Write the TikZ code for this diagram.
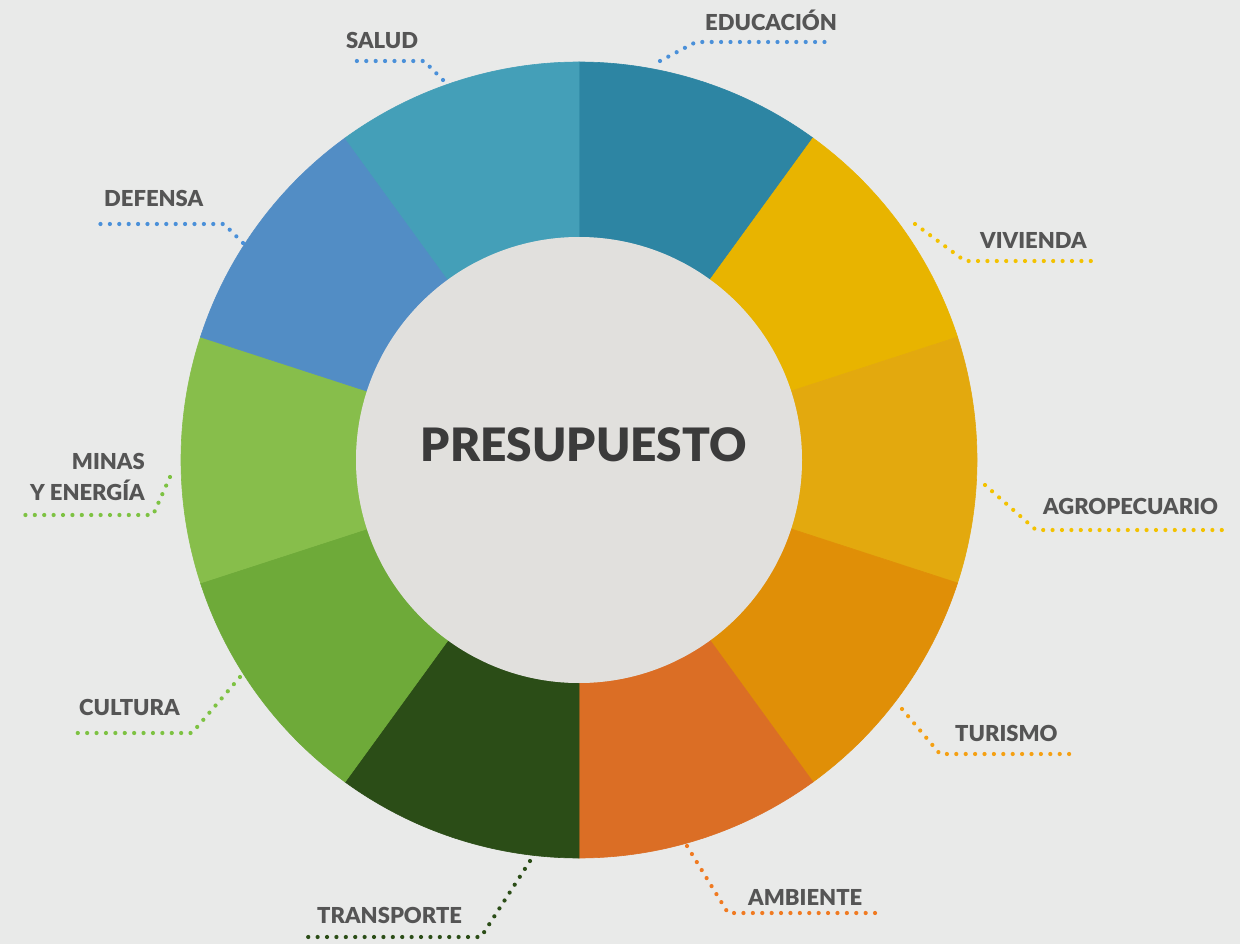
\documentclass[tikz,border=0pt]{standalone}
\usepackage{fontspec}
\setmainfont{Lato}[BoldFont={Lato Black}]
\definecolor{bg}{HTML}{E9EAE9}
\definecolor{centergray}{HTML}{E1E0DD}
\definecolor{labelgray}{HTML}{555555}
\definecolor{titlegray}{HTML}{3B3B3B}
\definecolor{cEdu}{HTML}{2D85A3}
\definecolor{cViv}{HTML}{E8B400}
\definecolor{cAgr}{HTML}{E3A90E}
\definecolor{cTur}{HTML}{E08F07}
\definecolor{cAmb}{HTML}{DB6E25}
\definecolor{cTra}{HTML}{2B4D17}
\definecolor{cCul}{HTML}{6EAA39}
\definecolor{cMin}{HTML}{87BE4B}
\definecolor{cDef}{HTML}{528DC5}
\definecolor{cSal}{HTML}{449FB8}
\definecolor{dBlue}{HTML}{4A90D9}
\definecolor{dGreen}{HTML}{7DC242}
\definecolor{dDark}{HTML}{2B4D17}
\definecolor{dOrange}{HTML}{F07A21}
\definecolor{dAmber}{HTML}{F5A012}
\definecolor{dYellow}{HTML}{F3C200}
\begin{document}
\begin{tikzpicture}[x=1pt,y=-1pt,
  lbl/.style={font=\bfseries\fontsize{22}{31}\selectfont, text=labelgray, inner sep=0pt},
  leader/.style={line width=4.2pt, line cap=round, dash pattern=on 0pt off 9.4pt},
  seg/.style={fill=#1, draw=#1, line width=0.6pt}]
\fill[bg] (0,0) rectangle (1240,944);
\useasboundingbox (0,0) rectangle (1240,944);
\begin{scope}[shift={(579,460)}, x=1pt, y=1pt]
  \foreach \a/\c in {90/cEdu,54/cViv,18/cAgr,-18/cTur,-54/cAmb,-90/cTra,-126/cCul,-162/cMin,162/cDef,126/cSal}{
    \path[seg=\c] (\a:398) arc[start angle=\a, delta angle=-36, radius=398pt]
      -- ({\a-36}:223) arc[start angle={\a-36}, delta angle=36, radius=223pt] -- cycle;
  }
  \fill[centergray] (0,0) circle[radius=223pt];
  \node[font=\bfseries\fontsize{46}{50}\selectfont, text=titlegray] (title) at (5,15) {PRESUPUESTO};
\end{scope}
% labels
\node[lbl, anchor=west] (edu) at (705,20) {EDUCACIÓN};
\node[lbl, anchor=west] (sal) at (346,40) {SALUD};
\node[lbl, anchor=west] (def) at (104,198) {DEFENSA};
\node[lbl, anchor=east, align=right] (min) at (145,477) {MINAS\\Y ENERGÍA};
\node[lbl, anchor=west] (cul) at (79,707) {CULTURA};
\node[lbl, anchor=west] (tra) at (317,915) {TRANSPORTE};
\node[lbl, anchor=west] (amb) at (748,897) {AMBIENTE};
\node[lbl, anchor=west] (tur) at (955,733) {TURISMO};
\node[lbl, anchor=west] (agr) at (1043,506) {AGROPECUARIO};
\node[lbl, anchor=west] (viv) at (980,240) {VIVIENDA};
% leader coordinates
\coordinate (eduA) at (660,61);  \coordinate (eduB) at (696,42);  \coordinate (eduC) at (825,42);
\coordinate (salA) at (443,80);  \coordinate (salB) at (424,61);  \coordinate (salC) at (350,61);
\coordinate (defA) at (243,243); \coordinate (defB) at (224,224); \coordinate (defC) at (95,224);
\coordinate (minA) at (170,477); \coordinate (minB) at (153,515); \coordinate (minC) at (22,515);
\coordinate (culA) at (240,677); \coordinate (culB) at (192,733); \coordinate (culC) at (77,733);
\coordinate (traA) at (530,861); \coordinate (traB) at (481,937); \coordinate (traC) at (300,937);
\coordinate (ambA) at (687,846); \coordinate (ambB) at (728,913); \coordinate (ambC) at (877,913);
\coordinate (turA) at (902,709); \coordinate (turB) at (940,754); \coordinate (turC) at (1077,754);
\coordinate (agrA) at (985,485); \coordinate (agrB) at (1036,530); \coordinate (agrC) at (1222,530);
\coordinate (vivA) at (915,224); \coordinate (vivB) at (965,261); \coordinate (vivC) at (1097,261);
\draw[leader, dBlue] (eduA) -- (eduB) -- (eduC);
\draw[leader, dBlue] (salA) -- (salB) -- (salC);
\draw[leader, dBlue] (defA) -- (defB) -- (defC);
\draw[leader, dGreen] (minA) -- (minB) -- (minC);
\draw[leader, dGreen] (culA) -- (culB) -- (culC);
\draw[leader, dDark] (traA) -- (traB) -- (traC);
\draw[leader, dOrange] (ambA) -- (ambB) -- (ambC);
\draw[leader, dAmber] (turA) -- (turB) -- (turC);
\draw[leader, dYellow] (agrA) -- (agrB) -- (agrC);
\draw[leader, dYellow] (vivA) -- (vivB) -- (vivC);
\end{tikzpicture}
\end{document}
